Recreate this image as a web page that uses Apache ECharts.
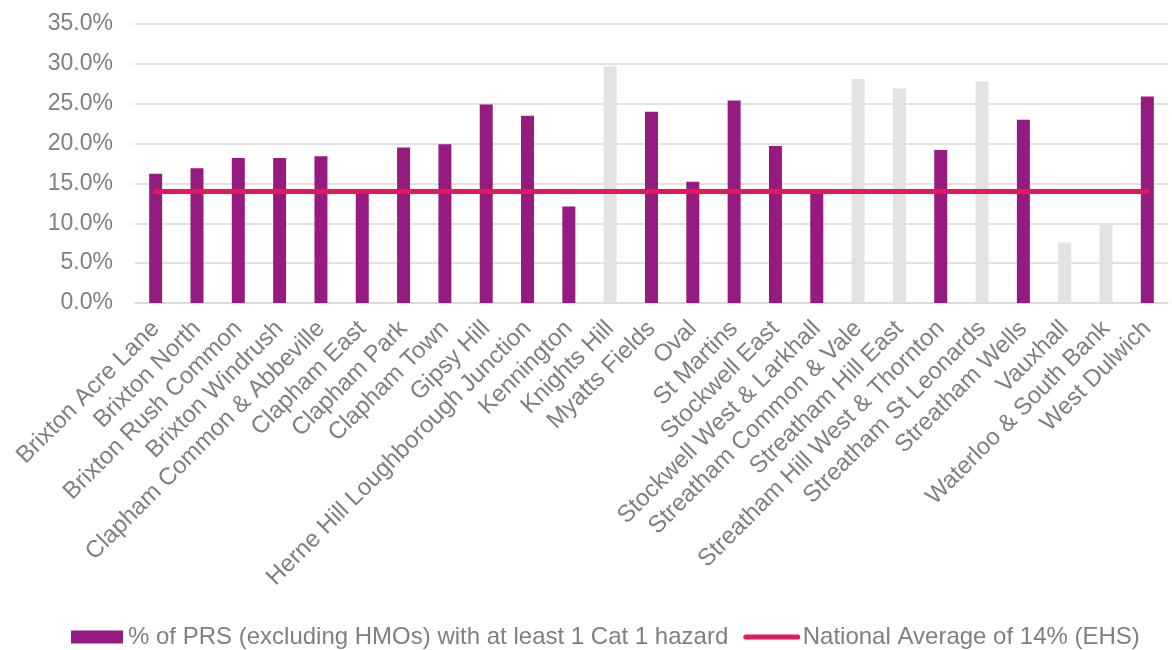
<!DOCTYPE html>
<html>
<head>
<meta charset="utf-8">
<script src="https://cdn.jsdelivr.net/npm/echarts@6/dist/echarts.min.js"></script>
<style>
html,body{margin:0;padding:0;background:#fff;}
#chart{width:1172px;height:650px;}
</style>
</head>
<body>
<div id="chart"></div>
<script>
const wards = ["Brixton Acre Lane","Brixton North","Brixton Rush Common","Brixton Windrush","Clapham Common & Abbeville","Clapham East","Clapham Park","Clapham Town","Gipsy Hill","Herne Hill Loughborough Junction","Kennington","Knights Hill","Myatts Fields","Oval","St Martins","Stockwell East","Stockwell West & Larkhall","Streatham Common & Vale","Streatham Hill East","Streatham Hill West & Thornton","Streatham St Leonards","Streatham Wells","Vauxhall","Waterloo & South Bank","West Dulwich"];
const hazardPct = [16.2,16.9,18.2,18.2,18.4,13.8,19.5,19.9,24.9,23.5,12.1,29.7,24.0,15.2,25.4,19.7,13.8,28.1,26.9,19.2,27.8,23.0,7.6,10.0,25.9];
const lowSampleWards = ["Knights Hill","Streatham Common & Vale","Streatham Hill East","Streatham St Leonards","Vauxhall","Waterloo & South Bank"];
const nationalAverage = 14;
const seriesNames = ["% of PRS (excluding HMOs) with at least 1 Cat 1 hazard","National Average of 14% (EHS)"];

const PURPLE = "#951B81", GREY = "#E3E3E3", PINK = "#E5195A", TEXT = "#7F7F7F";
const FONT = "Liberation Sans, Arial, sans-serif";
const chart = echarts.init(document.getElementById('chart'));
chart.setOption({
  animation:false,
  textStyle:{fontFamily:FONT},
  grid:{left:135,right:4,top:24,bottom:347,containLabel:false},
  legend:{
    top:620,left:66,itemGap:15,itemWidth:52,itemHeight:13,
    textStyle:{fontSize:24,color:TEXT,fontFamily:FONT},
    data:[
      {name:seriesNames[0],icon:'rect',itemStyle:{color:PURPLE}},
      {name:seriesNames[1],itemStyle:{color:'rgba(0,0,0,0)',borderWidth:0},lineStyle:{color:PINK,width:5,cap:'round'}}
    ]
  },
  xAxis:{
    type:'category',data:wards,
    axisLine:{show:true,lineStyle:{color:"#D9D9D9",width:1.5}},
    axisTick:{show:false},
    axisLabel:{interval:0,rotate:45,fontSize:24,color:TEXT,margin:22}
  },
  yAxis:{
    type:'value',min:0,max:35,interval:5,
    axisLine:{show:false},axisTick:{show:false},
    splitLine:{lineStyle:{color:"#D9D9D9",width:1.5}},
    axisLabel:{fontSize:23,color:TEXT,margin:22,formatter:v=>v.toFixed(1)+'%'}
  },
  series:[
    {
      name:seriesNames[0],type:'bar',barWidth:13,
      data:hazardPct.map((v,i)=>({value:v,itemStyle:{color:lowSampleWards.includes(wards[i])?GREY:PURPLE}})),
      itemStyle:{color:PURPLE},z:2
    },
    {
      name:seriesNames[1],type:'line',symbol:'none',
      data:wards.map(()=>nationalAverage),
      lineStyle:{color:PINK,width:5,cap:'round'},itemStyle:{color:PINK},z:3
    }
  ]
});
</script>
</body>
</html>
